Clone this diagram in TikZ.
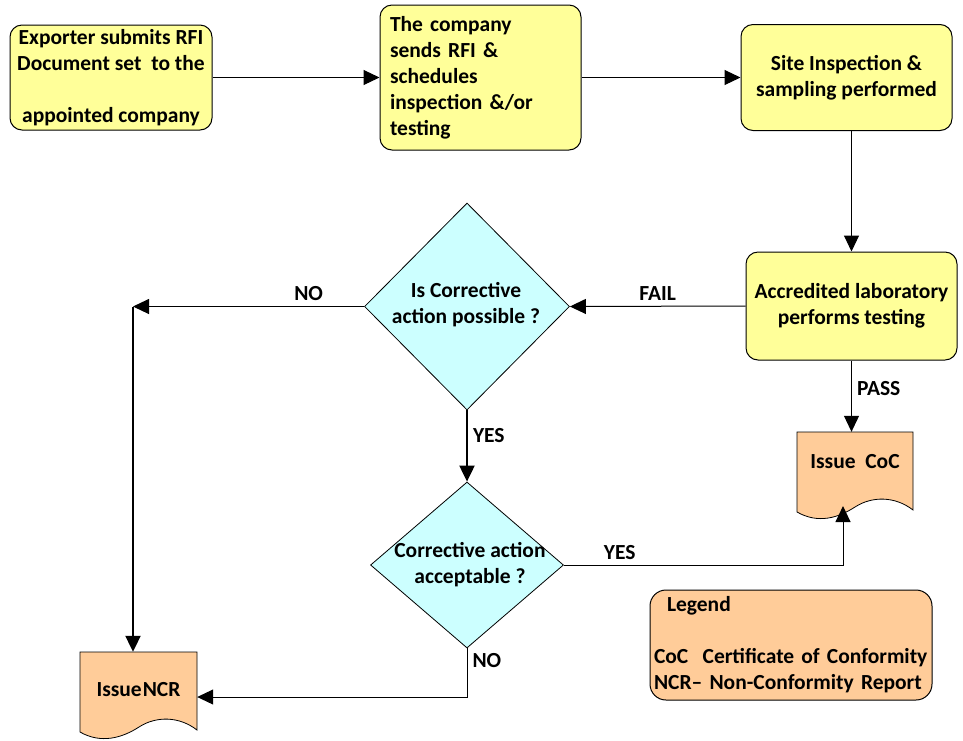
\documentclass[tikz,border=0pt]{standalone}
\usepackage{fontspec}
\setmainfont{Carlito}
\usepackage{tikz}
\usetikzlibrary{positioning,shapes.geometric,arrows.meta}
\definecolor{procyellow}{HTML}{FFFF99}
\definecolor{deccyan}{HTML}{CCFFFF}
\definecolor{docpeach}{HTML}{FFCC99}
\tikzset{
    proc/.style={
    rectangle,rounded corners=12pt,draw=black,fill=procyellow,line width=1pt,inner sep=0pt
    },
    decision/.style={
    diamond,draw=black,fill=deccyan,line width=0.8pt,inner sep=0pt
    },
    docshape/.style={
    draw=black,fill=docpeach,line width=0.8pt
    },
    doc/.style={rectangle,inner sep=0pt},
    legend/.style={rectangle,rounded corners=16pt,draw=black,fill=docpeach,line width=1pt,inner sep=0pt},
  line/.style={draw, line width=1pt, -{Triangle[length=16pt,width=15pt]}},
  thickline/.style={draw, line width=2pt, -{Triangle[length=16pt,width=15pt]}},
  lbl/.style={inner sep=5pt},
}
\begin{document}
\begin{tikzpicture}[x=1pt,y=-1pt,font=\fontsize{21.5}{26}\selectfont\bfseries]
\useasboundingbox (0,0) rectangle (963,740);

  % top row
  \node[proc,align=center,minimum width=202pt,minimum height=105pt] (rfi) at (111,77.5) {Exporter submits RFI\\Document set~~to the\\[26pt]appointed company};
  \node[proc,align=left,text width=181pt,minimum width=201pt,minimum height=145pt] (send) at (480.5,77.5) {The company\\sends RFI \&\\schedules\\inspection \&/or\\testing};
  \node[proc,align=center,minimum width=211pt,minimum height=106pt] (site) at (846.5,77.5) {Site Inspection \&\\sampling performed};
  \node[proc,align=center,minimum width=211pt,minimum height=108pt] (lab) at (851.5,306) {Accredited laboratory\\performs testing};

  % decisions
  \node[decision,minimum width=205pt,minimum height=207pt] (poss) at (467,306.5) {};
  \node[align=center] (posstext) at (466,305) {Is Corrective\\action possible ?};
  \node[decision,minimum width=193pt,minimum height=166pt] (acc) at (467,565) {};
  \node[align=center] (acctext) at (470,564.5) {Corrective action\\acceptable ?};

  % documents
  \path[docshape] (797,432) -- (913,432) -- (913,510) .. controls (895,496) and (872,496) .. (855,507) .. controls (838,518) and (818,524) .. (797,512) -- cycle;
  \node[doc,minimum width=116pt,minimum height=60pt] (coc) at (855,462) {Issue~~CoC};
  \coordinate (cocin) at (843,506);
  \path[docshape] (80,652) -- (197,652) -- (197,730) .. controls (179,716) and (156,716) .. (139,727) .. controls (122,738) and (101,744) .. (80,732) -- cycle;
  \node[doc,minimum width=117pt,minimum height=76pt] (ncr) at (138.5,690) {Issue\kern1pt NCR};

  \node[legend,align=left,text width=274pt,minimum width=282pt,minimum height=110pt] (leg) at (791,645) {\hspace{13pt}Legend\\[26pt]CoC~~Certificate of Conformity\\NCR– Non-Conformity Report};

  % connectors
  \path[line] (rfi) -- (send);
  \path[line] (send) -- (site);
  \path[line] (lab.north |- site.south) -- (lab.north);
  \path[line] (lab.west) -- node[lbl,above] {FAIL} (poss.east);
  \coordinate (nocorner) at (133,306.5);
  \path[line] (poss.west) -- node[lbl,above,pos=0.24] {NO} (nocorner);
  \path[thickline] (nocorner) -- (nocorner |- ncr.north);
  \path[thickline] (poss.south) -- node[lbl,right,pos=0.35] {YES} (acc.north);
  \path[line] (acc.east) -| node[lbl,above,pos=0.1] {YES} (cocin);
  \path[line] (acc.south) |- node[lbl,right,pos=0.12] {NO} ([yshift=-7pt]ncr.east);
  \path[line] (lab.south) -- node[lbl,right,pos=0.39] {PASS} (lab.south |- coc.north);
\end{tikzpicture}
\end{document}
